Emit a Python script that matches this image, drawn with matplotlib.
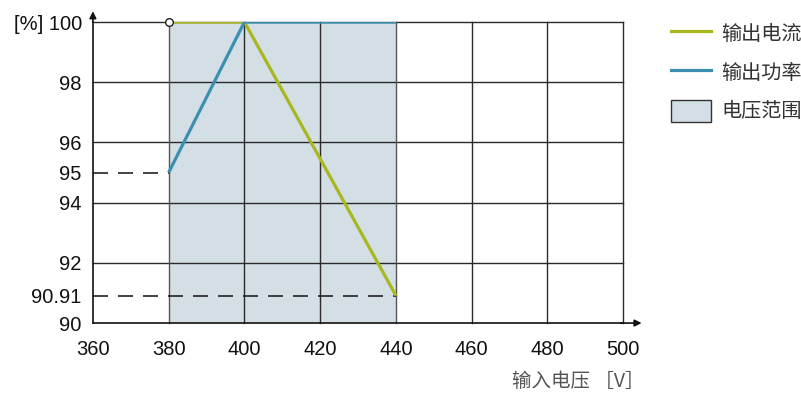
import matplotlib

matplotlib.use("Agg")

import matplotlib.pyplot as plt
from matplotlib.lines import Line2D
from matplotlib.patches import Patch

plt.rcParams["font.family"] = ["Liberation Sans", "Noto Sans CJK SC", "DejaVu Sans"]

# Daten
voltage = [380, 400, 440]
current = [100, 100, 90.91]
power = [95, 100, 100]
range_lo, range_hi = 380, 440

x_ticks = [360, 380, 400, 420, 440, 460, 480, 500]
y_ticks = [90, 90.91, 92, 94, 95, 96, 98, 100]
y_labels = ["90", "90.91", "92", "94", "95", "96", "98", "[%] 100"]
y_grid = [92, 94, 96, 98, 100]
x_grid = [380, 400, 420, 440, 460, 480, 500]

GREEN = "#a9b71f"
BLUE = "#3d8fb1"
SHADE = "#d3dee5"
GRID = "#2a2a2a"

fig = plt.figure(figsize=(8.01, 3.93), dpi=100)
ax = fig.add_axes([0.116, 0.178, 0.662, 0.766])
ax.set_xlim(360, 500)
ax.set_ylim(90, 100)

ax.axvspan(range_lo, range_hi, color=SHADE, zorder=0, lw=0)

for y in y_grid:
    ax.axhline(y, color=GRID, lw=1.0, zorder=1, clip_on=False)
for x in x_grid:
    ax.axvline(x, color=GRID if x not in (range_lo, range_hi) else "#555555",
               lw=1.0, zorder=1, clip_on=False)

# Hilfslinien
ax.plot([360, voltage[0]], [power[0]] * 2, color="#222222", lw=1.2,
        dashes=(9, 6), zorder=2)
ax.plot([360, voltage[-1]], [current[-1]] * 2, color="#222222", lw=1.2,
        dashes=(9, 6), zorder=2)

ax.plot(voltage, current, color=GREEN, lw=2.3, zorder=3, solid_capstyle="butt")
ax.plot(voltage, power, color=BLUE, lw=2.3, zorder=4, solid_capstyle="butt")
ax.plot([voltage[0]], [current[0]], marker="o", ms=5.5, mfc="white",
        mec="#222222", mew=1.0, zorder=5, clip_on=False)

for s in ["top", "right"]:
    ax.spines[s].set_visible(False)
for s in ["left", "bottom"]:
    ax.spines[s].set_color("#111111")
    ax.spines[s].set_linewidth(1.2)

ax.set_xticks(x_ticks)
ax.set_yticks(y_ticks)
ax.set_yticklabels(y_labels)
ax.tick_params(axis="both", length=0, labelsize=14.5, colors="#111111", pad=8)
ax.tick_params(axis="x", pad=12)

# Pfeile
ax.annotate("", xy=(0, 1.045), xytext=(0, 0.99), xycoords="axes fraction",
            arrowprops=dict(arrowstyle="-|>", color="#111111", lw=1.2,
                            mutation_scale=10), annotation_clip=False)
ax.annotate("", xy=(1.04, 0), xytext=(0.99, 0), xycoords="axes fraction",
            arrowprops=dict(arrowstyle="-|>", color="#111111", lw=1.2,
                            mutation_scale=10), annotation_clip=False)

fig.text(0.805, 0.003, "输入电压 ［V］", ha="right", va="bottom", fontsize=14,
         color="#555555", family=["Noto Sans CJK SC", "DejaVu Sans"])

handles = [
    Line2D([], [], color=GREEN, lw=2.3),
    Line2D([], [], color=BLUE, lw=2.3),
    Patch(facecolor=SHADE, edgecolor="#333333", lw=1.0),
]
labels = ["输出电流", "输出功率", "电压范围"]
fig.legend(handles, labels, loc="upper left", bbox_to_anchor=(0.815, 0.99),
           frameon=False, handlelength=2.0, handleheight=1.3, handletextpad=0.5,
           labelspacing=0.8, prop={"family": ["Noto Sans CJK SC"], "size": 14.5},
           labelcolor="#333333")

fig.savefig("out.png", dpi=100)
